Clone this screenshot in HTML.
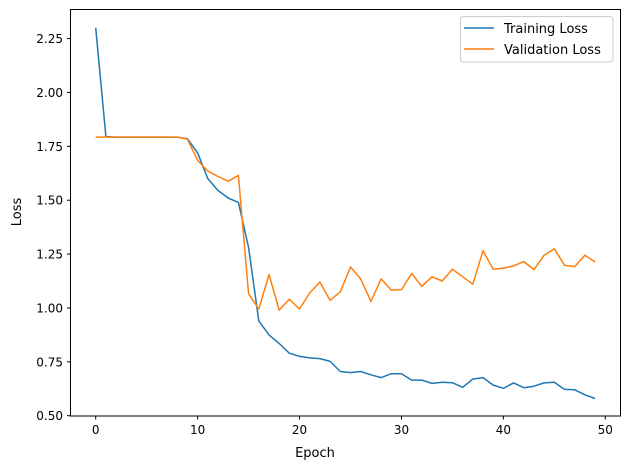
<!DOCTYPE html>
<html><head><style>
body{margin:0;background:#fff;}
svg{display:block;font-family:"DejaVu Sans","Liberation Sans",sans-serif;}
</style></head><body>
<svg id="s" width="630" height="469" viewBox="0 0 630 469" xmlns="http://www.w3.org/2000/svg">
<rect x="0" y="0" width="630" height="469" fill="#fff"/>
<g id="g"></g>
<rect x="70.5" y="9.5" width="550" height="406.5" fill="none" stroke="#000" stroke-width="1"/>
<g font-size="13" fill="#000">
<text x="315" y="457" text-anchor="middle" font-size="13">Epoch</text>
<text transform="translate(21,212) rotate(-90)" text-anchor="middle">Loss</text>
</g>
<g>
<rect x="460.5" y="16.5" width="152.5" height="45.5" rx="3" fill="#fff" fill-opacity="0.8" stroke="#ccc"/>
<line x1="464" y1="28" x2="494" y2="28" stroke="#1f77b4" stroke-width="1.5"/>
<line x1="464" y1="49" x2="494" y2="49" stroke="#ff7f0e" stroke-width="1.5"/>
<text x="504" y="33" font-size="13">Training Loss</text>
<text x="504" y="54" font-size="13">Validation Loss</text>
</g>
</svg>
<script>
var tr=[2.30,1.795,1.793,1.793,1.793,1.793,1.793,1.793,1.792,1.785,1.72,1.60,1.545,1.51,1.49,1.28,0.94,0.875,0.835,0.79,0.775,0.768,0.765,0.752,0.705,0.700,0.705,0.69,0.677,0.695,0.695,0.665,0.665,0.65,0.655,0.653,0.632,0.670,0.677,0.642,0.627,0.652,0.630,0.637,0.652,0.655,0.622,0.620,0.597,0.580];
var va=[1.793,1.793,1.793,1.793,1.793,1.793,1.793,1.793,1.793,1.783,1.685,1.635,1.61,1.588,1.615,1.065,0.995,1.155,0.99,1.04,0.995,1.07,1.12,1.035,1.075,1.19,1.135,1.03,1.135,1.083,1.085,1.16,1.10,1.145,1.125,1.18,1.145,1.11,1.265,1.18,1.185,1.195,1.215,1.178,1.245,1.275,1.198,1.192,1.245,1.213];
function X(e){return 95.7+e*10.192;}
function Y(v){return 415.7-(v-0.5)*215.5;}
var h='';
for(var e=0;e<=50;e+=10){var x=X(e);h+='<line x1="'+x+'" y1="416" x2="'+x+'" y2="419.5" stroke="#000"/><text x="'+x+'" y="434" font-size="12" text-anchor="middle">'+e+'</text>';}
for(var i=0;i<8;i++){var v=0.5+i*0.25,y=Y(v);h+='<line x1="67" y1="'+y+'" x2="70.5" y2="'+y+'" stroke="#000"/><text x="63" y="'+(y+4.5)+'" font-size="12" text-anchor="end">'+v.toFixed(2)+'</text>';}
function pl(d,c){return '<polyline fill="none" stroke="'+c+'" stroke-width="1.5" stroke-linejoin="round" points="'+d.map(function(v,i){return X(i).toFixed(1)+','+Y(v).toFixed(1)}).join(' ')+'"/>';}
h+=pl(tr,'#1f77b4')+pl(va,'#ff7f0e');
document.getElementById('g').innerHTML=h;
</script>
</body></html>
